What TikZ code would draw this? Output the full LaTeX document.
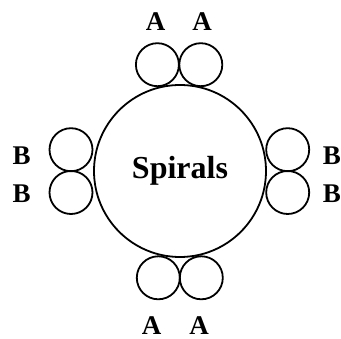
\documentclass[tikz,border=0pt]{standalone}
\usepackage{fontspec}
\setmainfont{Liberation Serif}
\begin{document}
\begin{tikzpicture}[x=1pt,y=-1pt,
  big/.style={circle,draw,line width=1.8pt,minimum size=172pt,inner sep=0pt,font=\bfseries\fontsize{32}{36}\selectfont},
  small/.style={circle,draw,line width=1.8pt,minimum size=43pt,inner sep=0pt},
  lab/.style={inner sep=0pt,font=\bfseries\fontsize{27}{30}\selectfont}]
\useasboundingbox (0,0) rectangle (341,339);
\node[big] (sp) at (180,171) {Spirals};
\node[small] (t1) at (157.4,64.7) {};
\node[small] (t2) at (200.8,64.7) {};
\node[small] (b1) at (158.3,277.8) {};
\node[small] (b2) at (201.3,277.8) {};
\node[small] (l1) at (71,149.7) {};
\node[small] (l2) at (71,192.5) {};
\node[small] (r1) at (287.7,149.7) {};
\node[small] (r2) at (287.7,192.5) {};
\node[lab] (ta1) at (155.7,22) {A};
\node[lab] (ta2) at (202,22) {A};
\node[lab] (ba1) at (151.7,325.5) {A};
\node[lab] (ba2) at (199,325.5) {A};
\node[lab] (lb1) at (21.7,156) {B};
\node[lab] (lb2) at (21.7,194) {B};
\node[lab] (rb1) at (332,156) {B};
\node[lab] (rb2) at (332,194) {B};
\end{tikzpicture}
\end{document}
